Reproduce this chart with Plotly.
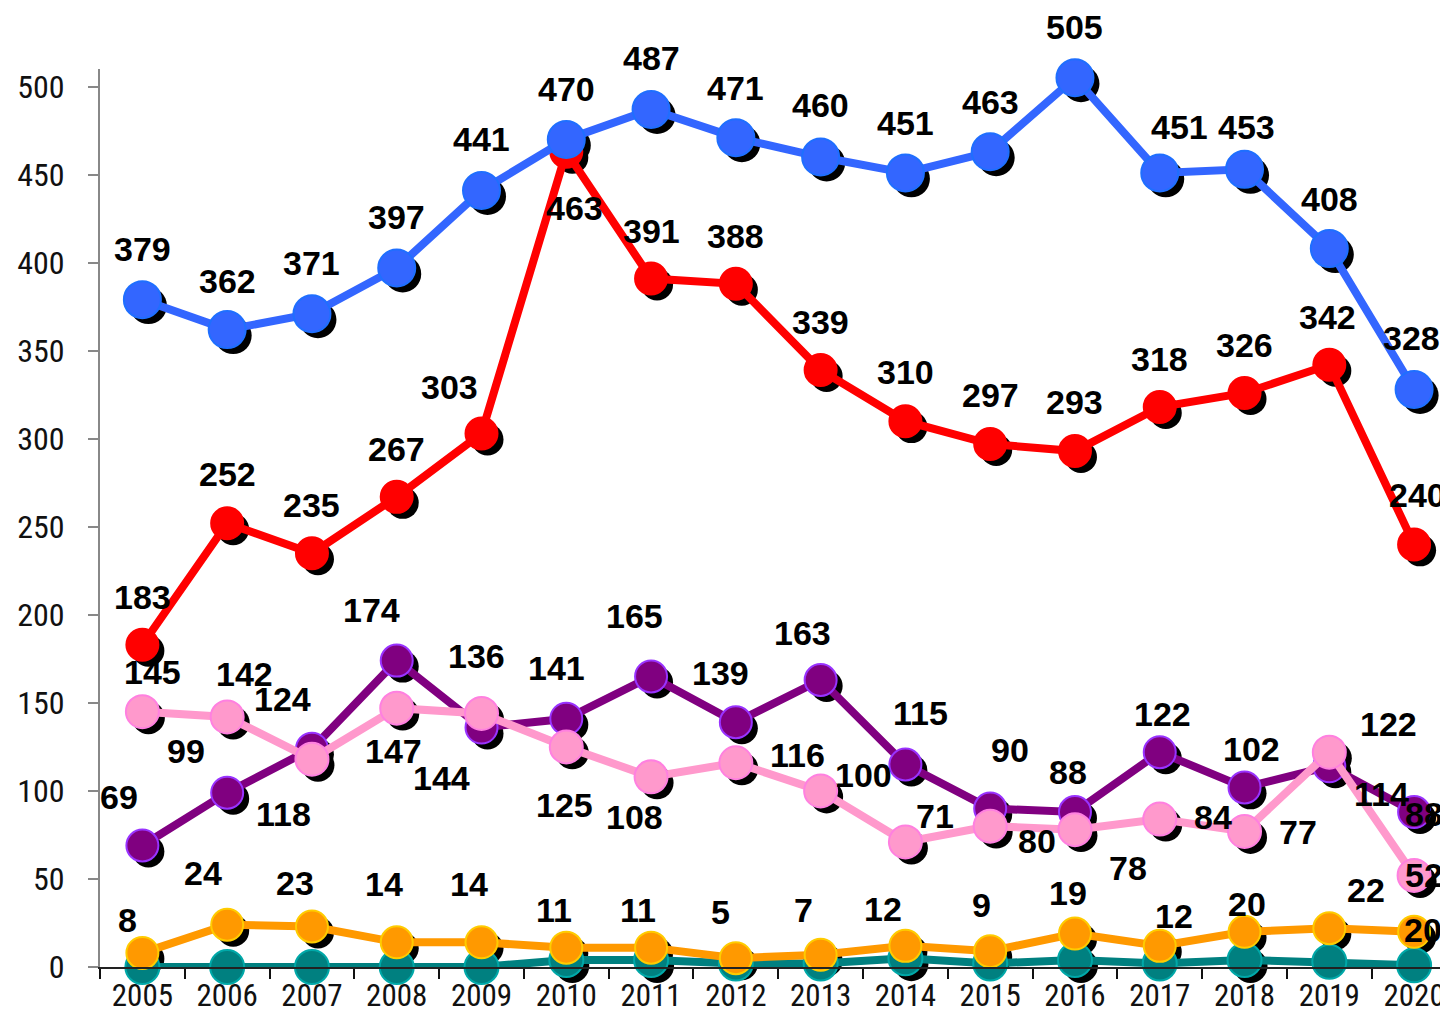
import plotly.graph_objects as go

years = [str(y) for y in range(2005, 2021)]

blue = [379, 362, 371, 397, 441, 470, 487, 471, 460, 451, 463, 505, 451, 453, 408, 328]
red = [183, 252, 235, 267, 303, 463, 391, 388, 339, 310, 297, 293, 318, 326, 342, 240]
purple = [69, 99, 124, 174, 136, 141, 165, 139, 163, 115, 90, 88, 122, 102, 114, 88]
pink = [145, 142, 118, 147, 144, 125, 108, 116, 100, 71, 80, 78, 84, 77, 122, 52]
orange = [8, 24, 23, 14, 14, 11, 11, 5, 7, 12, 9, 19, 12, 20, 22, 20]
teal = [0, 0, 0, 0, 0, 4, 4, 2, 2, 5, 2, 4, 2, 4, 3, 1]

# label offsets in pixels (dx right, dy up) -- layout only
off_blue = [(0, 51), (0, 49), (0, 51), (0, 51), (0, 51), (0, 50), (0, 52), (0, 50),
            (0, 52), (0, 50), (0, 50), (0, 51), (20, 46), (2, 42), (0, 50), (-3, 51)]
off_red = [(0, 48), (0, 49), (0, 48), (0, 48), (-32, 46), (8, -56), (0, 48), (0, 48),
           (0, 48), (0, 49), (0, 49), (0, 49), (0, 48), (0, 48), (-2, 48), (3, 49)]
off_purple = [(-23, 49), (-41, 42), (-29, 50), (-25, 51), (-5, 72), (-10, 51), (-17, 60), (-15, 49),
              (-18, 47), (15, 52), (20, 59), (-7, 40), (3, 38), (7, 38), (52, -28), (10, -2)]
off_pink = [(10, 40), (17, 43), (-28, -55), (-3, -43), (-40, -65), (-2, -58), (-17, -40), (62, 8),
            (43, 16), (30, 26), (47, -15), (53, -38), (53, 2), (53, -1), (59, 28), (10, 0)]
off_orange = [(-15, 33), (-24, 52), (-17, 44), (-13, 58), (-13, 58), (-12, 38), (-13, 38), (-15, 46),
              (-17, 45), (-22, 37), (-9, 46), (-7, 41), (14, 30), (2, 28), (37, 38), (9, 2)]

series = [
    # values, line color, fill, outline, marker size, offsets
    (teal, "#008080", "#008080", "#00A8A8", 34, None),
    (orange, "#FF9900", "#FF9900", "#FFCC00", 32, off_orange),
    (purple, "#800080", "#800080", "#9933FF", 32, off_purple),
    (pink, "#FF99CC", "#FF99CC", "#FF80E0", 33, off_pink),
    (red, "#FF0000", "#FF0000", "#FF0000", 32, off_red),
    (blue, "#3366FF", "#3366FF", "#1F6FFF", 37, off_blue),
]

W, H = 1440, 1006
ML, MR, MT, MB = 92, 0, 61, 41
XR = [-0.5, 15.4]
YR = [0, 510]
pxx = (W - ML - MR) / (XR[1] - XR[0])
pxy = (H - MT - MB) / (YR[1] - YR[0])
SH = 6  # shadow offset px
XRS = [XR[0] - SH / pxx, XR[1] - SH / pxx]
YRS = [YR[0] + SH / pxy, YR[1] + SH / pxy]

fig = go.Figure()

# shadows on base (hidden) axes
for vals, lc, fc, oc, ms, off in series:
    fig.add_trace(go.Scatter(
        x=years, y=vals, mode="markers", xaxis="x", yaxis="y",
        marker=dict(size=ms, color="black", line=dict(width=0)),
        cliponaxis=False, hoverinfo="skip", showlegend=False))

# real series on visible overlaying axes
for vals, lc, fc, oc, ms, off in series:
    fig.add_trace(go.Scatter(
        x=years, y=vals, mode="lines+markers", xaxis="x2", yaxis="y2",
        line=dict(color=lc, width=8),
        marker=dict(size=ms, color=fc, line=dict(color=oc, width=2)),
        cliponaxis=False, showlegend=False))

label_font = dict(family="Liberation Sans, Arial, sans-serif", size=34, color="black")
for vals, lc, fc, oc, ms, off in series:
    if off is None:
        continue
    for i, (v, (dx, dy)) in enumerate(zip(vals, off)):
        fig.add_annotation(x=i, y=v, xref="x2", yref="y2", text="<b>%d</b>" % v, showarrow=False,
                           xshift=dx, yshift=dy, font=label_font,
                           xanchor="center", yanchor="middle")

narrow = "Liberation Sans Narrow, Arial Narrow, Roboto Condensed, DejaVu Sans Condensed, sans-serif"

fig.update_layout(
    width=W, height=H, autosize=False,
    margin=dict(l=ML, r=MR, t=MT, b=MB),
    paper_bgcolor="white", plot_bgcolor="white",
    showlegend=False,
    xaxis=dict(type="category", categoryorder="array", categoryarray=years, range=XRS,
               visible=False, showgrid=False, zeroline=False),
    yaxis=dict(range=YRS, visible=False, showgrid=False, zeroline=False),
    xaxis2=dict(type="category", categoryorder="array", categoryarray=years, range=XR,
                overlaying="x", anchor="y2", side="bottom",
                showgrid=False, zeroline=False, showline=True, linecolor="#222222", linewidth=2,
                ticks="outside", tickson="boundaries", ticklen=10, tickcolor="#111111", tickwidth=2,
                tickfont=dict(family=narrow, size=31, color="#111111")),
    yaxis2=dict(range=YR, overlaying="y", anchor="x2", side="left",
                showgrid=False, zeroline=False, showline=True, linecolor="#888888", linewidth=2,
                ticks="outside", ticklen=10, tickcolor="#888888", tickwidth=2,
                tickvals=list(range(0, 501, 50)), ticklabelstandoff=17,
                tickfont=dict(family=narrow, size=32, color="#111111")),
)

fig.write_html("out.html")
